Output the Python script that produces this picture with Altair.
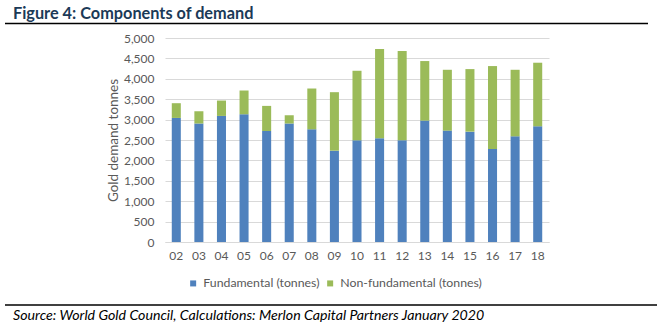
import altair as alt
import pandas as pd

years = ["02", "03", "04", "05", "06", "07", "08", "09", "10", "11", "12", "13", "14", "15", "16", "17", "18"]
fundamental = [3041, 2902, 3090, 3131, 2721, 2902, 2762, 2238, 2492, 2541, 2492, 2975, 2730, 2705, 2279, 2590, 2836]
total = [3402, 3205, 3467, 3713, 3336, 3107, 3762, 3672, 4197, 4730, 4680, 4435, 4221, 4238, 4312, 4221, 4394]
non_fundamental = [t - f for t, f in zip(total, fundamental)]

series = ["Fundamental (tonnes)", "Non-fundamental (tonnes)"]
colors = ["#4F81BD", "#9BBB59"]
title_text = "Figure 4: Components of demand"
source_text = "Source: World Gold Council, Calculations: Merlon Capital Partners January 2020"

rows = []
for i, y in enumerate(years):
    rows.append({"year": y, "series": series[0], "value": fundamental[i], "ord": 0})
    rows.append({"year": y, "series": series[1], "value": non_fundamental[i], "ord": 1})
df = pd.DataFrame(rows)

FONT = "Lato"
GREY = "#595959"

bars = alt.Chart(df).mark_bar().encode(
    x=alt.X("year:N", sort=years, title=None,
            scale=alt.Scale(paddingInner=0.6, paddingOuter=0.3),
            axis=alt.Axis(labelAngle=0, labelColor=GREY, labelFontSize=12, labelFont=FONT,
                          labelPadding=8, ticks=False, domainColor="#D9D9D9", grid=False)),
    y=alt.Y("value:Q", stack="zero", title="Gold demand tonnes",
            scale=alt.Scale(domain=[0, 5000], nice=False),
            axis=alt.Axis(values=list(range(0, 5001, 500)), format=",.0f", labelColor=GREY,
                          labelFontSize=12, labelFont=FONT, labelPadding=11, ticks=False,
                          domain=False, gridColor="#D9D9D9", titleColor=GREY,
                          titleFontSize=13.5, titleFont=FONT, titleFontWeight="normal",
                          titlePadding=3)),
    color=alt.Color("series:N", scale=alt.Scale(domain=series, range=colors),
                    legend=alt.Legend(title=None, orient="none", direction="horizontal",
                                      legendX=22, legendY=239, symbolType="square",
                                      symbolSize=36, symbolStrokeWidth=0, labelFont=FONT,
                                      labelFontSize=12.3, labelColor=GREY, labelOffset=4,
                                      columnPadding=4, padding=0)),
    order=alt.Order("ord:Q", sort="ascending"),
)

one = alt.Data(values=[{"a": 1}])

title_mark = alt.Chart(one).mark_text(
    text=title_text, font=FONT, fontSize=16.3, fontWeight="bold", color="#1B3A57",
    align="left", baseline="middle"
).encode(x=alt.value(-152), y=alt.value(-24))

top_rule = alt.Chart(one).mark_rule(color="#000000", strokeWidth=1.5).encode(
    x=alt.value(-160), x2=alt.value(483), y=alt.value(-14.5))

bottom_rule = alt.Chart(one).mark_rule(color="#000000", strokeWidth=1.5).encode(
    x=alt.value(-160), x2=alt.value(492), y=alt.value(267))

source_mark = alt.Chart(one).mark_text(
    text=source_text, font=FONT, fontSize=14.2, fontStyle="italic", color="#000000",
    align="left", baseline="middle"
).encode(x=alt.value(-152), y=alt.value(278))

chart = alt.layer(bars, title_mark, top_rule, bottom_rule, source_mark).properties(
    width=384, height=204,
    autosize=alt.AutoSizeParams(type="none"),
    padding={"left": 165, "top": 38, "right": 112, "bottom": 87},
    background="white",
).configure_view(stroke=None)

chart.save("out.html", embed_options={"renderer": "svg", "actions": False})
